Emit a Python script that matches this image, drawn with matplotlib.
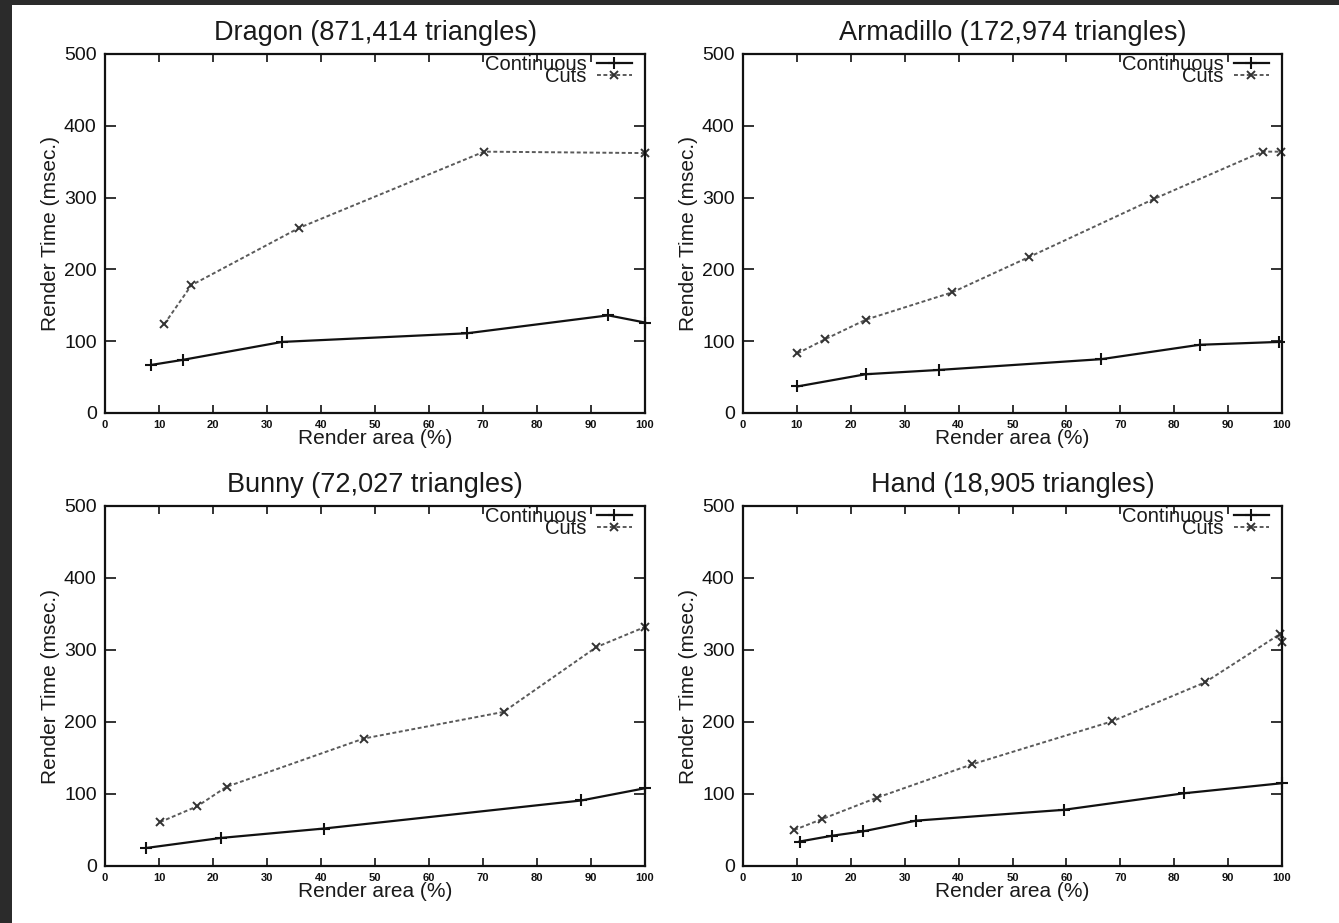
import matplotlib
matplotlib.use("Agg")
import matplotlib.pyplot as plt

plt.rcParams['font.family'] = ['Liberation Sans', 'DejaVu Sans']

titles = ["Dragon (871,414 triangles)", "Armadillo (172,974 triangles)",
          "Bunny (72,027 triangles)", "Hand (18,905 triangles)"]

dragon_cont_x = [8.6, 14.4, 32.8, 67.0, 93.2, 100]
dragon_cont_y = [67, 74, 99, 111, 136, 126]
dragon_cuts_x = [11.0, 16.0, 36.0, 70.2, 100]
dragon_cuts_y = [124, 178, 258, 364, 362]

arma_cont_x = [10.1, 22.8, 36.4, 66.5, 84.7, 99.4]
arma_cont_y = [37, 54, 60, 75, 95, 99]
arma_cuts_x = [10.1, 15.3, 22.8, 38.8, 53.0, 76.2, 96.4, 99.8]
arma_cuts_y = [83, 103, 130, 168, 217, 298, 364, 364]

bunny_cont_x = [7.6, 21.5, 40.5, 88.2, 100]
bunny_cont_y = [25, 39, 52, 91, 108]
bunny_cuts_x = [10.2, 17.1, 22.5, 47.9, 73.8, 91.0, 100]
bunny_cuts_y = [61, 83, 110, 177, 214, 304, 332]

hand_cont_x = [10.5, 16.5, 22.2, 32.1, 59.5, 81.8, 100]
hand_cont_y = [34, 42, 48, 63, 78, 101, 115]
hand_cuts_x = [9.5, 14.6, 24.9, 42.4, 68.5, 85.7, 99.6, 100]
hand_cuts_y = [50, 65, 95, 141, 201, 255, 322, 311]

series = [
    (dragon_cont_x, dragon_cont_y, dragon_cuts_x, dragon_cuts_y),
    (arma_cont_x, arma_cont_y, arma_cuts_x, arma_cuts_y),
    (bunny_cont_x, bunny_cont_y, bunny_cuts_x, bunny_cuts_y),
    (hand_cont_x, hand_cont_y, hand_cuts_x, hand_cuts_y),
]

x_ticks = list(range(0, 101, 10))
y_ticks = list(range(0, 501, 100))
legend_labels = ["Continuous", "Cuts"]

W, H = 1339, 923
fig = plt.figure(figsize=(W / 100, H / 100), dpi=100, facecolor='white')
# dark page border strips (left and top)
fig.patches.append(plt.Rectangle((0, 0), 12 / W, 1, transform=fig.transFigure,
                                 facecolor='#2b2b2b', edgecolor='none'))
fig.patches.append(plt.Rectangle((0, 1 - 5 / H), 1, 5 / H, transform=fig.transFigure,
                                 facecolor='#2b2b2b', edgecolor='none'))

boxes = [(105, 54, 645, 413), (743, 54, 1282, 413),
         (105, 506, 645, 866), (743, 506, 1282, 866)]

for (l, t, r, b), title, (cx, cy, kx, ky) in zip(boxes, titles, series):
    ax = fig.add_axes([l / W, 1 - b / H, (r - l) / W, (b - t) / H])
    ax.plot(cx, cy, color='#111111', lw=1.6, marker='+', ms=9, mew=1.5,
            label=legend_labels[0], clip_on=False)
    ax.plot(kx, ky, color='#5a5a5a', lw=1.4, ls=(0, (2.0, 1.3)), marker='x',
            ms=5.5, mew=1.4, mec='#333333', label=legend_labels[1], clip_on=False)
    ax.set_xlim(0, 100)
    ax.set_ylim(0, 500)
    ax.set_xticks(x_ticks)
    ax.set_yticks(y_ticks)
    ax.tick_params(axis='x', direction='in', top=True, length=6, width=1.2,
                   labelsize=8, pad=5, colors='#111111')
    ax.tick_params(axis='y', direction='in', right=True, length=8, width=1.2,
                   labelsize=14, pad=6, colors='#111111')
    for lab in ax.get_xticklabels():
        lab.set_fontweight('bold')
    for s in ax.spines.values():
        s.set_linewidth(1.6)
        s.set_color('#111111')
    ax.set_title(title, fontsize=19.5, pad=10, color='#1a1a1a')
    ax.set_xlabel("Render area (%)", fontsize=15, labelpad=-1, color='#1a1a1a')
    ax.set_ylabel("Render Time (msec.)", fontsize=15, labelpad=3, color='#1a1a1a')
    leg = ax.legend(loc='upper right', frameon=False, markerfirst=False,
                    fontsize=14.5, handlelength=1.75, handletextpad=0.5,
                    labelspacing=-0.36, borderaxespad=0.0, borderpad=0.05,
                    bbox_to_anchor=(1 - 12 / (r - l), 1.0))
    for txt in leg.get_texts():
        txt.set_color('#1a1a1a')

fig.savefig("out.png", dpi=100, facecolor=fig.get_facecolor())
